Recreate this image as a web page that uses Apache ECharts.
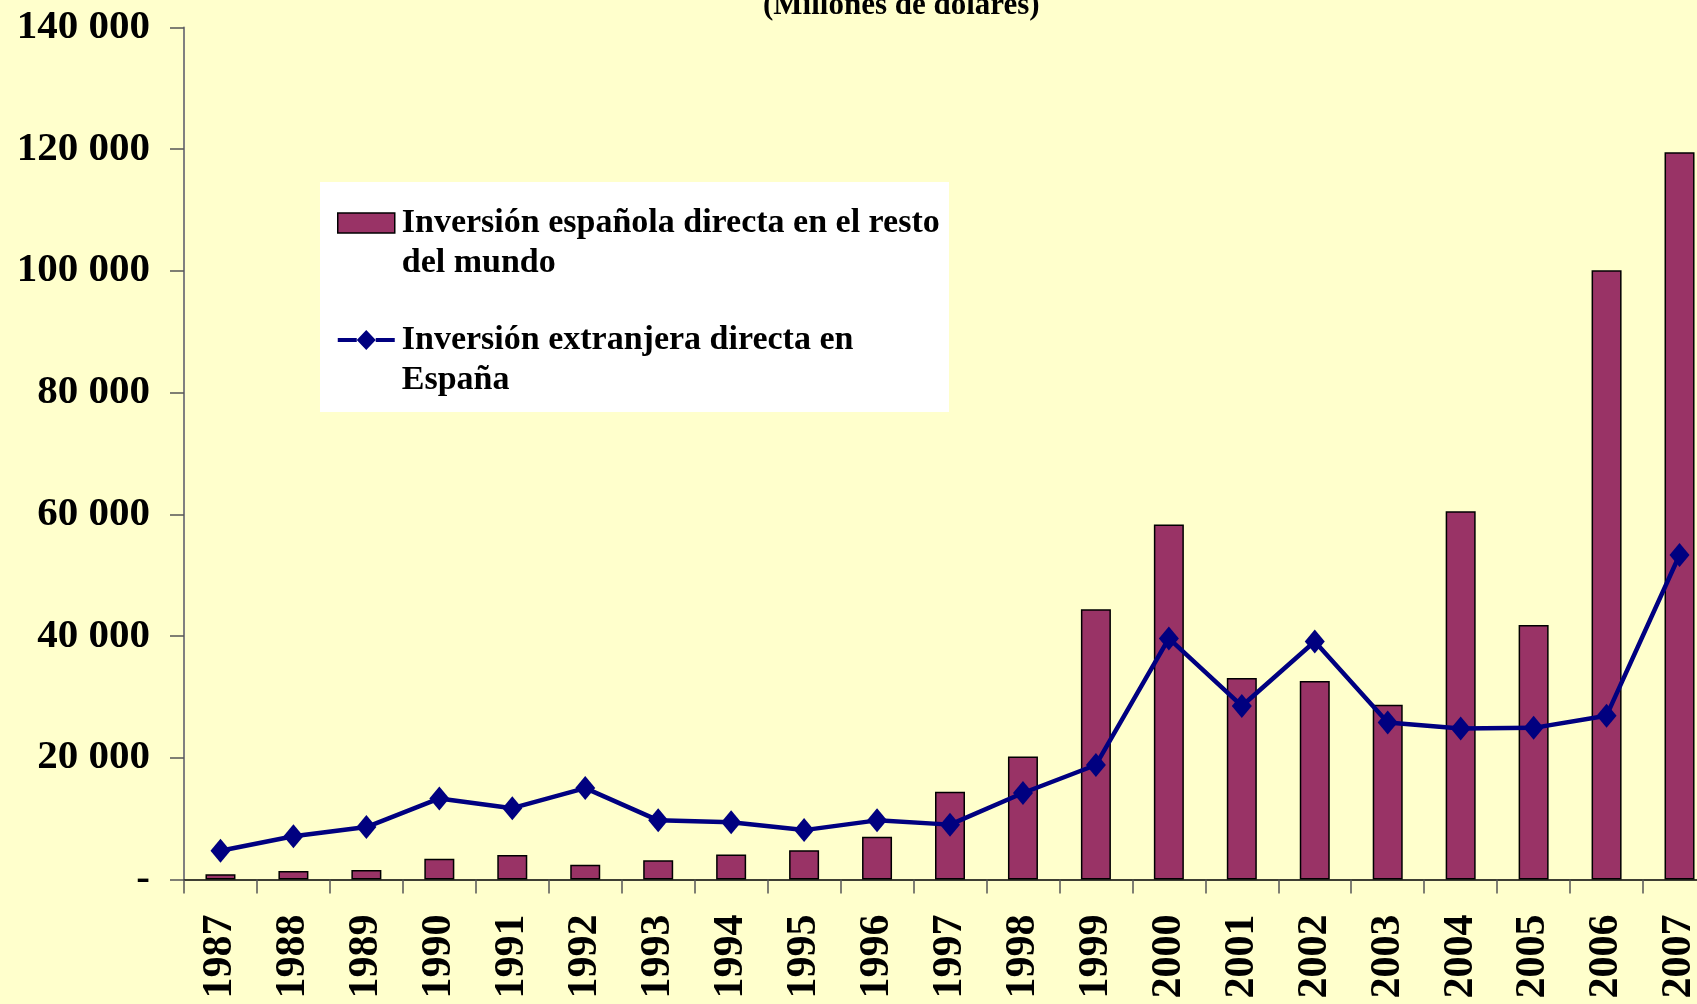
<!DOCTYPE html>
<html>
<head>
<meta charset="utf-8">
<title>Inversión directa</title>
<script src="https://cdn.jsdelivr.net/npm/echarts@6/dist/echarts.min.js"></script>
<style>
    html, body { margin: 0; padding: 0; background: #ffffcc; overflow: hidden; }
    /* the original plot runs past the right edge, so the canvas is a bit wider than the window */
    #chart { width: 1716px; height: 1004px; }
</style>
</head>
<body>
<div id="chart"></div>
<script>
(function (window, echarts) {
    'use strict';

    // values (millones de dólares)
    const years = ['1987', '1988', '1989', '1990', '1991', '1992', '1993', '1994', '1995', '1996', '1997',
        '1998', '1999', '2000', '2001', '2002', '2003', '2004', '2005', '2006', '2007'];

    const inversionEspanola = [850, 1400, 1550, 3400, 4000, 2400, 3150, 4100, 4800, 7000, 14400,
        20200, 44400, 58300, 33100, 32600, 28700, 60500, 41800, 100100, 119500];

    const inversionExtranjera = [4700, 7100, 8600, 13300, 11700, 15000, 9700, 9400, 8100, 9700, 9000,
        14200, 18800, 39600, 28500, 39100, 25800, 24800, 24900, 26900, 53300];

    const yTicks = [0, 20000, 40000, 60000, 80000, 100000, 120000, 140000];

    const nameBar = 'Inversión española directa en el resto del mundo';
    const nameLine = 'Inversión extranjera directa en España';

    // legend text wrapped like the original (leading blank line keeps the icon on the first line)
    const legendText = {};
    legendText[nameBar] = '\nInversión española directa en el resto\ndel mundo';
    legendText[nameLine] = '\nInversión extranjera directa en\nEspaña';

    // line + diamond legend icon, a bit bigger than the default one
    const lineIcon = 'path://M0 8h19v4H0z M19 10L28.5 0L38 10L28.5 20z M38 8h19v4H38z';

    const serif = '"Liberation Serif", "Times New Roman", serif';

    const chart = echarts.init(document.getElementById('chart'));

    chart.setOption({
        backgroundColor: '#ffffcc',
        animation: false,
        title: {
            text: '(Millones de dólares)',
            left: 763,
            top: -10,
            padding: 0,
            textStyle: { fontFamily: serif, fontWeight: 'bold', fontSize: 31, color: '#000' }
        },
        graphic: [{
            type: 'rect',
            z: 1,
            shape: { x: 320, y: 182, width: 629, height: 230 },
            style: { fill: '#ffffff' }
        }],
        legend: {
            orient: 'vertical',
            left: 337,
            top: 163,
            padding: 0,
            itemGap: -3,
            itemWidth: 57,
            itemHeight: 20,
            z: 5,
            data: [
                { name: nameBar, icon: 'rect', itemStyle: { color: '#993366', borderColor: '#000', borderWidth: 1.5 } },
                { name: nameLine, icon: lineIcon, itemStyle: { color: '#000080', borderWidth: 0 } }
            ],
            formatter: name => legendText[name],
            textStyle: {
                fontFamily: serif,
                fontWeight: 'bold',
                fontSize: 34,
                lineHeight: 40,
                color: '#000',
                padding: [0, 0, 0, 2]
            }
        },
        grid: {
            left: 184,
            top: 27.4,
            right: 0,
            height: 852
        },
        xAxis: {
            type: 'category',
            data: years,
            boundaryGap: true,
            axisLine: { lineStyle: { color: '#000', width: 1.5 } },
            axisTick: { show: true, length: 14, interval: 0, lineStyle: { color: '#555', width: 1.5 } },
            axisLabel: {
                interval: 0,
                rotate: 90,
                margin: 35,
                fontFamily: serif,
                fontWeight: 'bold',
                fontSize: 42,
                color: '#000'
            }
        },
        yAxis: {
            type: 'value',
            min: yTicks[0],
            max: yTicks[yTicks.length - 1],
            interval: yTicks[1] - yTicks[0],
            splitLine: { show: false },
            axisLine: { show: true, lineStyle: { color: '#808080', width: 2 } },
            axisTick: { show: true, length: 14, lineStyle: { color: '#555', width: 1.5 } },
            axisLabel: {
                margin: 34,
                fontFamily: serif,
                fontWeight: 'bold',
                fontSize: 41,
                color: '#000',
                formatter: value => value === 0 ? '-' : (value / 1000) + ' 000'
            }
        },
        series: [
            {
                name: nameBar,
                type: 'bar',
                data: inversionEspanola,
                barWidth: 30,
                itemStyle: { color: '#993366', borderColor: '#000', borderWidth: 1.5 }
            },
            {
                name: nameLine,
                type: 'line',
                data: inversionExtranjera,
                symbol: 'diamond',
                symbolSize: [20, 24],
                lineStyle: { color: '#000080', width: 4.5 },
                itemStyle: { color: '#000080' },
                z: 3
            }
        ]
    });

    window.addEventListener('resize', () => chart.resize());

})(window, echarts);
</script>
</body>
</html>
